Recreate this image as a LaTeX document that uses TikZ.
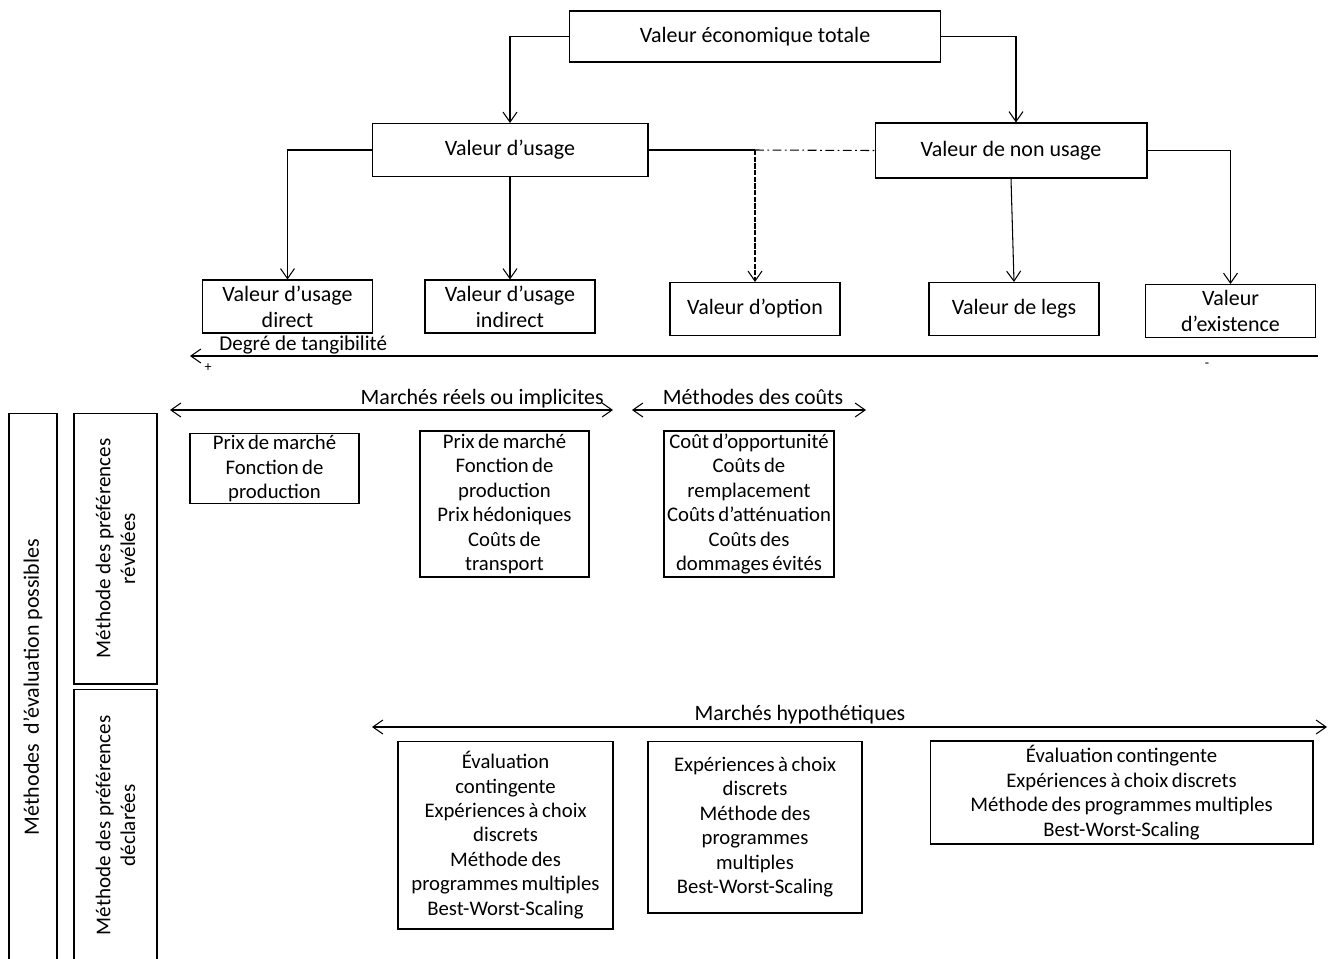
\documentclass[tikz,border=0pt]{standalone}
\usepackage{fontspec}
\setmainfont{Carlito}
\usetikzlibrary{arrows.meta,positioning}

\newcommand{\methfont}{\fontsize{11.8}{13.9}\selectfont\spaceskip=0.17em plus 0.05em minus 0.05em\relax}

\begin{document}
\begin{tikzpicture}[
      x=0.02cm, y=-0.02cm,
      font=\fontsize{12.5}{14.7}\selectfont,
      >={Straight Barb[length=2mm,width=2.8mm]},
      line width=0.6pt,
      arr/.style={->},
      box/.style={draw,rectangle,align=center,inner sep=1pt},
      val/.style={box,minimum width=3.40cm,minimum height=1.06cm},
      meth/.style={box,font=\methfont},
      side/.style={box,rotate=90},
      lab/.style={inner sep=1pt}
    ]
    \useasboundingbox (0,0) rectangle (1333,958);

    % Value tree
    \node (vet)      [box,minimum width=7.44cm,minimum height=1.02cm] at (755,36.5) {Valeur économique totale};
    \node (usage)    [box,minimum width=5.52cm,minimum height=1.06cm] at (510,150)  {Valeur d’usage};
    \node (nonusage) [box,minimum width=5.44cm,minimum height=1.10cm] at (1011,150.5) {Valeur de non usage};

    \node (direct)    [val] at (287.5,306.5) {Valeur d’usage\\direct};
    \node (indirect)  [val] at (510,306.5)   {Valeur d’usage\\indirect};
    \node (option)    [val] at (755,309)     {Valeur d’option};
    \node (legs)      [val] at (1014,309)    {Valeur de legs};
    \node (existence) [val] at (1230.5,311)  {Valeur\\d’existence};

    % Arrows value tree
    \coordinate (jn) at (755,150);
    \draw[arr] (vet.west) -| (usage.north);
    \draw[arr] (vet.east) -| ([xshift=0.1cm]nonusage.north);
    \draw[arr] (usage.west) -| (direct.north);
    \draw[arr] (usage) -- (indirect);
    \draw      (usage.east) -- (jn);
    \draw[arr,dash pattern=on 3pt off 0.8pt] (jn) -- (option.north);
    \draw[dash pattern=on 5pt off 2pt on 1pt off 2pt] (jn) -- (nonusage.west);
    \draw[arr] (nonusage.south) -- (legs.north);
    \draw[arr] (nonusage.east) -| (existence.north);

    % Tangibility axis
    \coordinate (axl) at (190,356);
    \coordinate (axr) at (1318,356);
    \draw[<-] (axl) -- (axr);
    \node (tang)  [lab,anchor=base west,font=\fontsize{12}{14}\selectfont] at (217,350) {Degré de tangibilité};
    \node (plus)  [lab,font=\fontsize{8}{9}\selectfont] at (208,368) {+};
    \node (minus) [lab,font=\fontsize{8}{9}\selectfont] at (1207,365) {-};

    % Revealed preferences
    \coordinate (mrl) at (170,410);
    \coordinate (mrr) at (613,410);
    \coordinate (mcl) at (632,410);
    \coordinate (mcr) at (866,410);
    \draw[<->] (mrl) -- (mrr);
    \draw[<->] (mcl) -- (mcr);
    \node (mr) [lab,anchor=base east] at (606,404) {Marchés réels ou implicites};
    \node (mc) [lab,anchor=base]      at (753,404) {Méthodes des coûts};

    \node (pm1)  [meth,minimum width=3.38cm,minimum height=1.38cm] at (274.5,468.5)
                 {Prix de marché\\Fonction de\\production};
    \node (pm2)  [meth,minimum width=3.38cm,minimum height=2.92cm] at (504.5,504)
                 {Prix de marché\\Fonction de\\production\\Prix hédoniques\\Coûts de\\transport};
    \node (cout) [meth,minimum width=3.40cm,minimum height=2.92cm] at (749,504)
                 {Coût d’opportunité\\Coûts de\\remplacement\\Coûts d’atténuation\\Coûts des\\dommages évités};

    % Stated preferences
    \coordinate (mhl) at (372,727);
    \coordinate (mhr) at (1327,727);
    \draw[<->] (mhl) -- (mhr);
    \node (mh) [lab,anchor=base] at (800,720) {Marchés hypothétiques};

    \node (hb1) [meth,minimum width=4.30cm,minimum height=3.76cm] at (505.5,835)
                {Évaluation\\contingente\\Expériences à choix\\discrets\\Méthode des\\programmes multiples\\Best-Worst-Scaling};
    \node (hb2) [meth,minimum width=4.28cm,minimum height=3.44cm] at (755,827)
                {Expériences à choix\\discrets\\Méthode des\\programmes\\multiples\\Best-Worst-Scaling};
    \node (hb3) [meth,minimum width=7.66cm,minimum height=2.06cm] at (1121.5,792.5)
                {Évaluation contingente\\Expériences à choix discrets\\Méthode des programmes multiples\\Best-Worst-Scaling};

    % Side labels
    \node (evm) [side,minimum width=10.96cm,minimum height=0.96cm] at (33,687)
                {Méthodes\ \ d’évaluation possibles};
    \node (rev) [side,minimum width=5.42cm,minimum height=1.66cm,font=\fontsize{12}{14}\selectfont] at (115.5,548.5)
                {Méthode des préférences\\révélées};
    \node (dec) [side,minimum width=5.46cm,minimum height=1.66cm,font=\fontsize{12}{14}\selectfont] at (115.5,825.5)
                {Méthode des préférences\\déclarées};
  \end{tikzpicture}
\end{document}
